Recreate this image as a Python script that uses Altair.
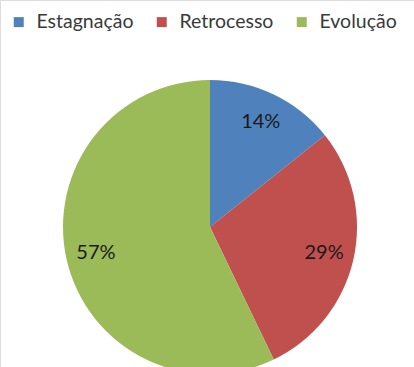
import altair as alt
import pandas as pd

categories = ["Estagnação", "Retrocesso", "Evolução"]
values = [1, 2, 4]
labels = ["14%", "29%", "57%"]
colors = ["#4F81BD", "#C0504D", "#9BBB59"]

df = pd.DataFrame({
    "cat": categories,
    "val": values,
    "label": labels,
    "order": list(range(len(categories))),
})

base = alt.Chart(df).encode(
    theta=alt.Theta("val:Q", stack=True),
    order=alt.Order("order:Q"),
    x=alt.value(210),
    y=alt.value(227),
)

arcs = base.mark_arc(radius=147).encode(
    color=alt.Color(
        "cat:N",
        scale=alt.Scale(domain=categories, range=colors),
        sort=categories,
        legend=alt.Legend(
            title=None,
            orient="none",
            legendX=9,
            legendY=12,
            direction="horizontal",
            symbolType="square",
            symbolSize=100,
            symbolStrokeWidth=0,
            labelFont="Lato",
            labelFontSize=19.5,
            labelColor="#3a3a3a",
            columnPadding=18,
            symbolOffset=0,
            labelOffset=8,
        ),
    )
)

text = base.mark_text(radius=117, font="Lato", fontSize=20, color="#1a1a1a").encode(
    text="label:N"
)

chart = (arcs + text).properties(
    width=414,
    height=367,
    padding=0,
    autosize=alt.AutoSizeParams(type="none"),
).configure_view(stroke=None).configure(background="white")

chart.save("out.html", embed_options={"renderer": "svg", "actions": False})
